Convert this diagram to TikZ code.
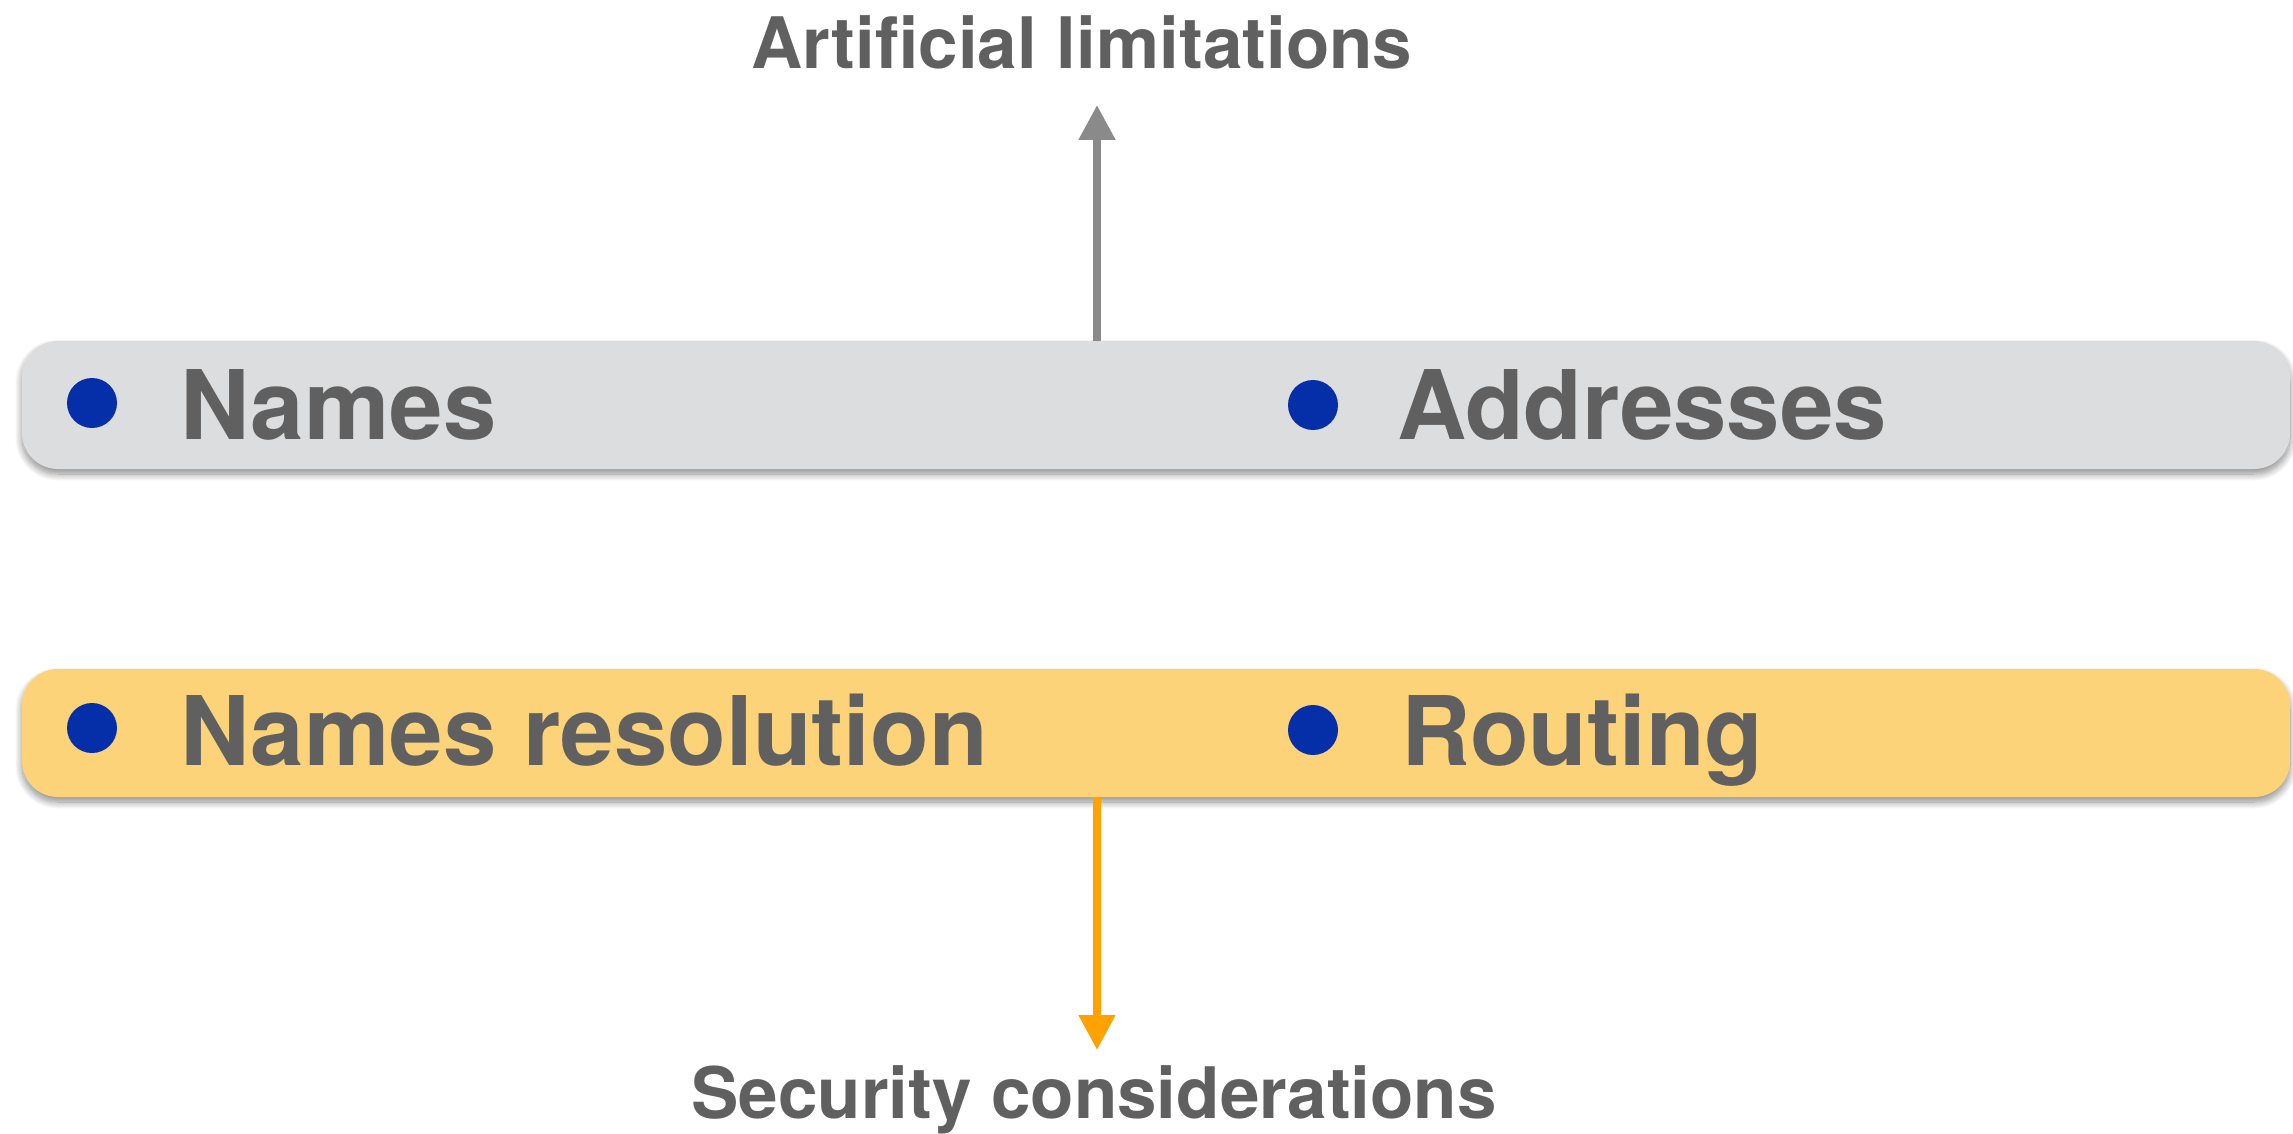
\documentclass[tikz,border=0pt]{standalone}
\usepackage{fontspec}
\setmainfont{TeX Gyre Heros}
\usetikzlibrary{arrows.meta,shadows.blur}

\definecolor{txtgray}{HTML}{606060}
\definecolor{boxgray}{HTML}{DCDDDF}
\definecolor{boxyellow}{HTML}{FDD37A}
\definecolor{dotblue}{HTML}{052EA9}
\definecolor{arrgray}{HTML}{8A8A8A}
\definecolor{arrorange}{HTML}{FFA200}

\tikzset{
  band/.style={rectangle, rounded corners=36pt, minimum width=2268pt,
    minimum height=128pt, inner sep=0pt,
    blur shadow={shadow xshift=0pt, shadow yshift=-5pt,
      shadow blur radius=7pt, shadow blur steps=12, shadow opacity=45}},
  bullet/.style={circle, fill=dotblue, minimum size=50pt, inner sep=0pt},
  item/.style={anchor=base west, inner sep=0pt, text=txtgray,
    font=\bfseries\fontsize{96}{110}\selectfont},
  caption/.style={anchor=base, inner sep=0pt, text=txtgray,
    font=\bfseries\fontsize{71}{82}\selectfont},
  link/.style={line width=8pt, -{Triangle[length=35pt,width=35pt]}}
}

\begin{document}
\begin{tikzpicture}[x=1pt,y=-1pt]
\useasboundingbox (0,0) rectangle (2293,1134);

% upper band: names and addresses
\node[band, fill=boxgray] (top) at (1156,405) {};
\node[bullet] (d1) at (92,403) {};
\node[item] (names) at (180,439) {Names};
\node[bullet] (d2) at (1313,405) {};
\node[item] (addr) at (1397,439) {Addresses};

% lower band: resolution and routing
\node[band, fill=boxyellow] (bot) at (1156,733) {};
\node[bullet] (d3) at (92,728) {};
\node[item] (res) at (180,765) {Names resolution};
\node[bullet] (d4) at (1313,730) {};
\node[item] (rout) at (1401,765) {Routing};

% captions
\node[caption] (lim) at (1082,69) {Artificial limitations};
\node[caption] (sec) at (1094,1118) {Security considerations};

% connectors
\coordinate (uptip) at (1097,105);
\coordinate (downtip) at (1097,1050);
\draw[link, arrgray] (top.north -| uptip) -- (uptip);
\draw[link, arrorange] (bot.south -| downtip) -- (downtip);
\end{tikzpicture}
\end{document}
